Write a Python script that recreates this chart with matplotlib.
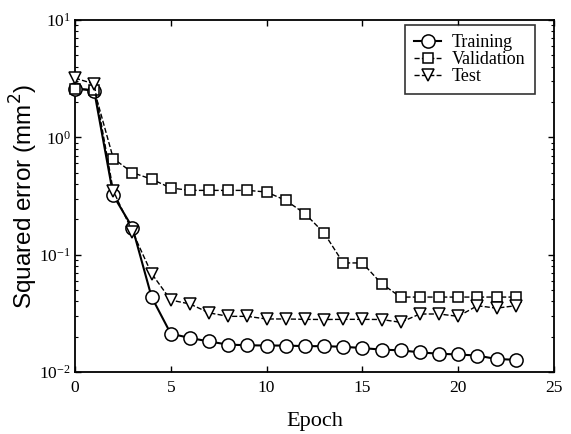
import matplotlib
matplotlib.use("Agg")
import matplotlib.pyplot as plt
from matplotlib.ticker import LogLocator, FixedLocator, NullFormatter

# ── data ─────────────────────────────────────────────────────────────────────
epochs = list(range(24))

training = [2.6, 2.5, 0.32, 0.17, 0.0435, 0.0212, 0.0195, 0.0182, 0.0171, 0.0169,
            0.0168, 0.0168, 0.0166, 0.0166, 0.0164, 0.016, 0.0155, 0.0153,
            0.0147, 0.0143, 0.0141, 0.0138, 0.0129, 0.0127]

validation = [2.6, 2.55, 0.66, 0.50, 0.44, 0.37, 0.353, 0.353, 0.353, 0.353,
              0.342, 0.29, 0.224, 0.153, 0.085, 0.085, 0.0566, 0.0435,
              0.0435, 0.0435, 0.0435, 0.0435, 0.0435, 0.0435]

test = [3.2, 2.85, 0.35, 0.157, 0.069, 0.041, 0.038, 0.0319, 0.0298, 0.0298,
        0.0283, 0.0283, 0.0281, 0.028, 0.0281, 0.0281, 0.028, 0.0265,
        0.0312, 0.0312, 0.0298, 0.0367, 0.035, 0.0367]

serif = "Liberation Serif"

fig = plt.figure(figsize=(5.71, 4.34), dpi=100)
ax = fig.add_axes([0.1313, 0.1429, 0.8389, 0.811])

ax.plot(epochs, training, "-", color="black", lw=1.5, marker="o", ms=9.5,
        mfc="white", mec="black", mew=1.1, label="Training", zorder=3,
        clip_on=False)
ax.plot(epochs, validation, "--", color="black", lw=1.0, marker="s", ms=7.5,
        mfc="white", mec="black", mew=1.1, label="Validation", zorder=4,
        clip_on=False)
ax.plot(epochs, test, "--", color="black", lw=1.0, marker="v", ms=8.5,
        mfc="white", mec="black", mew=1.1, label="Test", zorder=5,
        clip_on=False)

ax.set_yscale("log")
ax.set_xlim(0, 25)
ax.set_ylim(1e-2, 1e1)
ax.xaxis.set_major_locator(FixedLocator([0, 5, 10, 15, 20, 25]))
ax.yaxis.set_major_locator(LogLocator(base=10, numticks=10))
ax.yaxis.set_minor_locator(LogLocator(base=10, subs=range(2, 10), numticks=20))
ax.yaxis.set_minor_formatter(NullFormatter())
ax.tick_params(which="both", direction="in", top=True, right=True)
ax.tick_params(which="major", length=4, width=1.0)
ax.tick_params(which="minor", length=2, width=0.8)
ax.tick_params(axis="x", pad=6)
ax.tick_params(axis="y", pad=3)
for sp in ax.spines.values():
    sp.set_linewidth(1.3)

for lab in ax.get_xticklabels() + ax.get_yticklabels():
    lab.set_fontfamily(serif)
    lab.set_fontsize(12.5)

ax.set_xlabel("Epoch", family=serif, fontsize=16)
ax.xaxis.set_label_coords(0.5, -0.115)
ax.set_ylabel("Squared error (mm$^2$)", family="Liberation Sans", fontsize=17.5)
ax.yaxis.set_label_coords(-0.074, 0.5)

leg = ax.legend(loc="upper right", bbox_to_anchor=(0.960, 0.986),
                borderaxespad=0, prop={"family": serif, "size": 13},
                frameon=True, fancybox=False, edgecolor="black",
                handlelength=1.5, handletextpad=0.6, labelspacing=0.0,
                borderpad=0.5)
leg.get_frame().set_linewidth(1.2)

fig.savefig("out.png", dpi=100)
